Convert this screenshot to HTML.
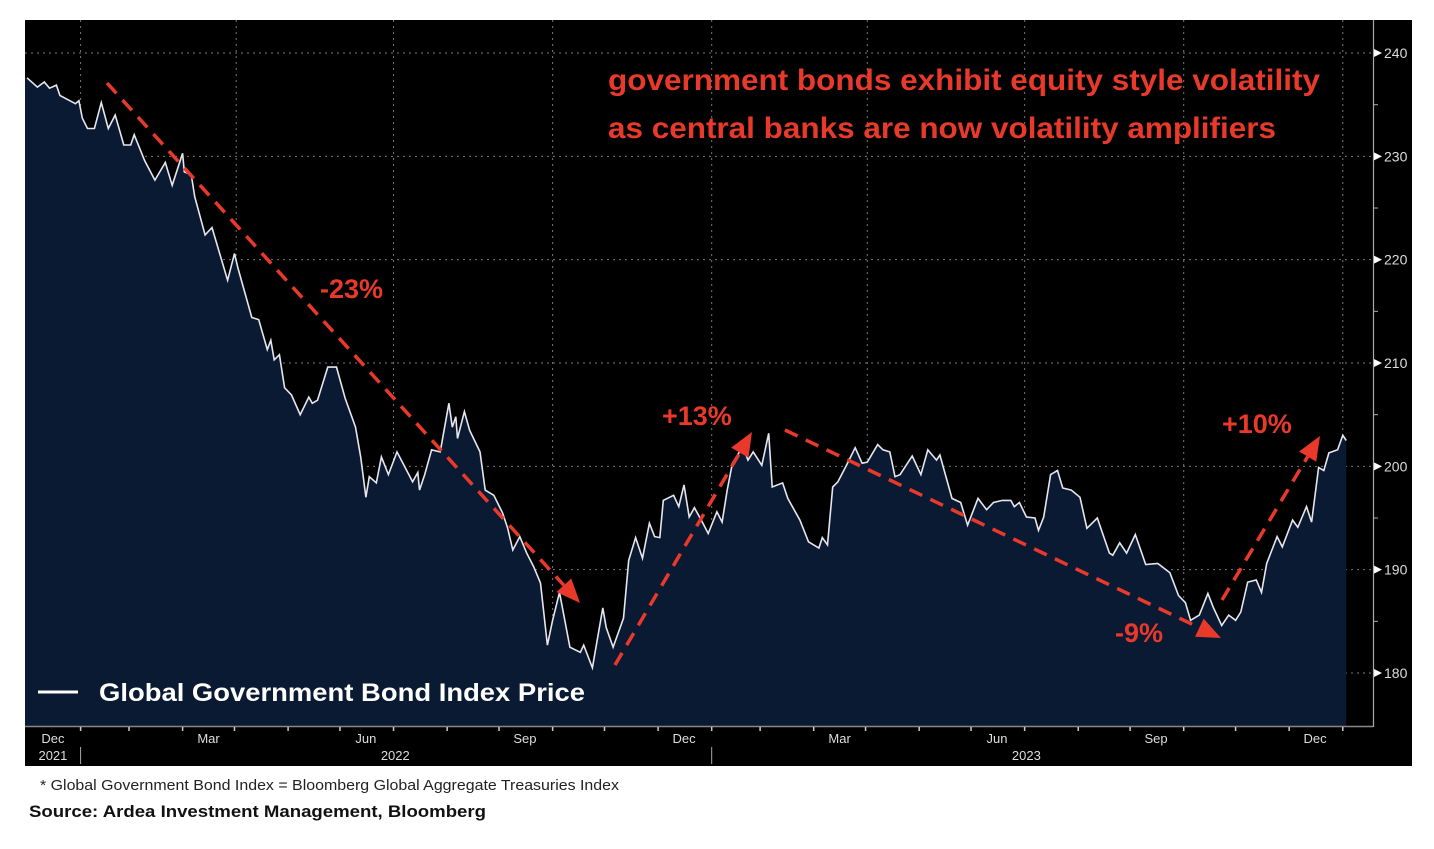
<!DOCTYPE html>
<html><head><meta charset="utf-8"><style>
body{margin:0;background:#fff;width:1434px;height:844px;overflow:hidden;font-family:"Liberation Sans",sans-serif}
</style></head><body>
<svg id="chart" width="1434" height="844" xmlns="http://www.w3.org/2000/svg" font-family="Liberation Sans, sans-serif">
<rect x="25" y="20" width="1387" height="746" fill="#000"/>
<g id="grid"></g>
<path id="area" fill="#0b1a33"/>
<path id="line" fill="none" stroke="#e6e6ee" stroke-width="1.6"/>
<g id="yaxis"></g>
<rect x="25" y="726" width="1387" height="40" fill="#000"/>
<line x1="25" y1="726.5" x2="1373" y2="726.5" stroke="#888" stroke-width="1.5"/>
<line x1="1373.5" y1="20" x2="1373.5" y2="727" stroke="#aaa" stroke-width="1.2"/>
<g id="xaxis"></g>
<g id="annot"></g>
<text x="608" y="90" font-size="30" font-weight="bold" fill="#e8392b" textLength="712" lengthAdjust="spacingAndGlyphs">government bonds exhibit equity style volatility</text>
<text x="608" y="138" font-size="30" font-weight="bold" fill="#e8392b" textLength="668" lengthAdjust="spacingAndGlyphs">as central banks are now volatility amplifiers</text>
<g>
<line x1="38" y1="692" x2="78" y2="692" stroke="#fff" stroke-width="3"/>
<text x="99" y="701" font-size="25" font-weight="bold" fill="#fff" textLength="486" lengthAdjust="spacingAndGlyphs">Global Government Bond Index Price</text>
</g>
<text x="40" y="790" font-size="15" fill="#222" textLength="579" lengthAdjust="spacingAndGlyphs">* Global Government Bond Index = Bloomberg Global Aggregate Treasuries Index</text>
<text x="29" y="817" font-size="17" font-weight="bold" fill="#111" textLength="457" lengthAdjust="spacingAndGlyphs">Source: Ardea Investment Management, Bloomberg</text>
</svg>
<script>
const days=[0,6,10,13,17,19,28,30,32,35,39,43,47,51,56,60,62,68,74,80,84,90,91,95,97,103,107,112,116,120,122,130,134,139,141,143,146,149,153,158,163,165,168,174,179,184,190,193,196,198,202,205,209,214,223,226,227,230,234,239,244,246,248,249,253,256,262,265,270,275,278,281,285,289,293,297,301,304,308,314,320,322,327,333,335,339,345,348,352,356,360,363,366,368,374,377,380,383,386,390,394,399,402,405,408,414,417,420,425,429,431,437,440,447,452,458,460,463,466,469,474,479,483,486,492,495,499,502,505,512,517,521,526,528,535,540,544,550,555,559,564,569,571,574,578,583,585,588,592,596,599,604,609,613,619,626,628,632,636,641,647,654,661,666,670,673,678,683,686,691,695,699,702,706,711,714,717,723,726,732,735,740,743,747,750,753,758,761,763];
const values=[237.6,236.7,237.2,236.6,236.9,235.9,235.1,235.4,233.7,232.7,232.7,235.2,232.7,234.0,231.1,231.1,232.1,229.6,227.7,229.4,227.2,230.3,228.5,228.2,226.1,222.4,223.1,220.3,218.0,220.6,219.2,214.4,214.2,211.3,212.2,210.3,210.8,207.6,206.9,205.0,206.7,206.1,206.4,209.6,209.6,206.6,203.8,200.9,197.0,199.0,198.4,200.9,199.2,201.4,198.5,199.4,197.7,199.2,201.6,201.4,206.1,203.8,204.8,202.7,205.3,203.5,201.4,197.7,197.2,195.5,194.0,191.9,193.2,191.6,190.3,188.7,182.7,185.1,187.8,182.5,182.0,182.7,180.5,186.3,184.4,182.5,185.3,190.9,193.1,191.1,194.5,193.2,193.1,196.7,197.2,196.1,198.2,195.1,196.0,194.8,193.5,195.6,194.6,197.7,200.3,201.9,200.6,201.4,200.1,203.2,198.0,198.4,196.9,194.8,192.7,192.1,193.1,192.4,198.0,198.5,200.1,201.8,200.3,200.4,202.1,201.6,201.4,199.0,199.2,201.0,199.2,201.6,200.6,201.1,196.9,196.5,194.3,196.9,195.8,196.5,196.7,196.7,196.1,196.5,195.1,195.0,193.8,195.1,199.2,199.6,197.9,197.7,197.0,194.0,195.0,191.6,191.4,192.6,191.6,193.4,190.5,190.6,189.7,187.5,186.8,185.1,185.6,187.7,186.4,184.6,185.6,185.1,185.9,188.8,189.0,187.8,190.6,193.2,192.2,194.8,194.1,196.1,194.6,199.9,199.6,201.3,201.6,203.0,202.5];
const yTicks=[180,190,200,210,220,230,240];
const quarterDays=[31,121,212,304,396,486,577,669,761];
const monthDays=[31,59,90,120,151,181,212,243,273,304,334,365,396,424,455,485,516,546,577,608,638,669,699,730,761];
const monthLabels=["Dec","Mar","Jun","Sep","Dec","Mar","Jun","Sep","Dec"];
const monthLabelDays=[15,105,196,288,380,470,561,653,745];
const yearLabels=["2021","2022","2023"];
const yearLabelDays=[15,213,578];
const yearDividerDays=[31,396];

const X=d=>27+d*1.729;
const Y=v=>673-(v-180)*10.333;
const NS="http://www.w3.org/2000/svg";
function mk(tag,attrs,parent){const e=document.createElementNS(NS,tag);for(const k in attrs)e.setAttribute(k,attrs[k]);parent.appendChild(e);return e;}

const grid=document.getElementById('grid');
yTicks.forEach(v=>{const l=mk('line',{x1:25,x2:1373,y1:Y(v),y2:Y(v),stroke:'#777','stroke-dasharray':'2 4','stroke-width':1},grid);

});
quarterDays.forEach(d=>{const l=mk('line',{x1:X(d),x2:X(d),y1:20,y2:726,stroke:'#777','stroke-dasharray':'2 4','stroke-width':1},grid);

});

let p='';days.forEach((d,i)=>{p+=(i?'L':'M')+X(d).toFixed(1)+' '+Y(values[i]).toFixed(1);});
document.getElementById('line').setAttribute('d',p);
document.getElementById('area').setAttribute('d','M25 726L25 '+Y(values[0]).toFixed(1)+p.replace(/^M/,'L')+'L'+X(days[days.length-1]).toFixed(1)+' 726Z');

const ya=document.getElementById('yaxis');
yTicks.forEach(v=>{const t=mk('polygon',{points:`1374,${Y(v)-4} 1382,${Y(v)} 1374,${Y(v)+4}`,fill:'#fff'},ya);


const tx=mk('text',{x:1384,y:Y(v)+5,'font-size':14,fill:'#ddd'},ya);tx.textContent=v;

});
[185,195,205,215,225,235].forEach(v=>{const t=mk('line',{x1:1374,x2:1378,y1:Y(v),y2:Y(v),stroke:'#aaa'},ya);

});

const xa=document.getElementById('xaxis');
monthDays.forEach(d=>{const t=mk('line',{x1:X(d),x2:X(d),y1:727,y2:731,stroke:'#ccc','stroke-width':1.5},xa);

});
monthLabels.forEach((m,i)=>{const t=mk('text',{x:X(monthLabelDays[i]),y:743,'font-size':13,fill:'#ddd','text-anchor':'middle'},xa);t.textContent=m;

});
yearLabels.forEach((m,i)=>{const t=mk('text',{x:X(yearLabelDays[i]),y:760,'font-size':13,fill:'#ddd','text-anchor':'middle'},xa);t.textContent=m;

});
yearDividerDays.forEach(d=>{const t=mk('line',{x1:X(d),x2:X(d),y1:747,y2:764,stroke:'#aaa'},xa);

});

const an=document.getElementById('annot');
const arrows=[[107,83,580,603],[615,665,752,432],[785,430,1221,638],[1222,600,1320,436]];
const arrowNames=['arrow-decline-23','arrow-rise-13','arrow-decline-9','arrow-rise-10'];
arrows.forEach((a,i)=>{const [x1,y1,x2,y2]=a;const dx=x2-x1,dy=y2-y1,L=Math.hypot(dx,dy),ux=dx/L,uy=dy/L;
const bx=x2-ux*24,by=y2-uy*24;
const g=mk('g',{},an);


mk('line',{x1:x1,y1:y1,x2:bx,y2:by,stroke:'#e8392b','stroke-width':3.5,'stroke-dasharray':'14 9'},g);
mk('polygon',{points:`${x2},${y2} ${bx-uy*10},${by+ux*10} ${bx+uy*10},${by-ux*10}`,fill:'#e8392b'},g);});
const labs=[['-23%',320,298],['+13%',662,425],['-9%',1115,642],['+10%',1222,433]];
const labNames=['label-minus-23','label-plus-13','label-minus-9','label-plus-10'];
labs.forEach((l,i)=>{const t=mk('text',{x:l[1],y:l[2],'font-size':27,'font-weight':'bold',fill:'#e8392b'},an);t.textContent=l[0];

});
</script>
</body></html>
